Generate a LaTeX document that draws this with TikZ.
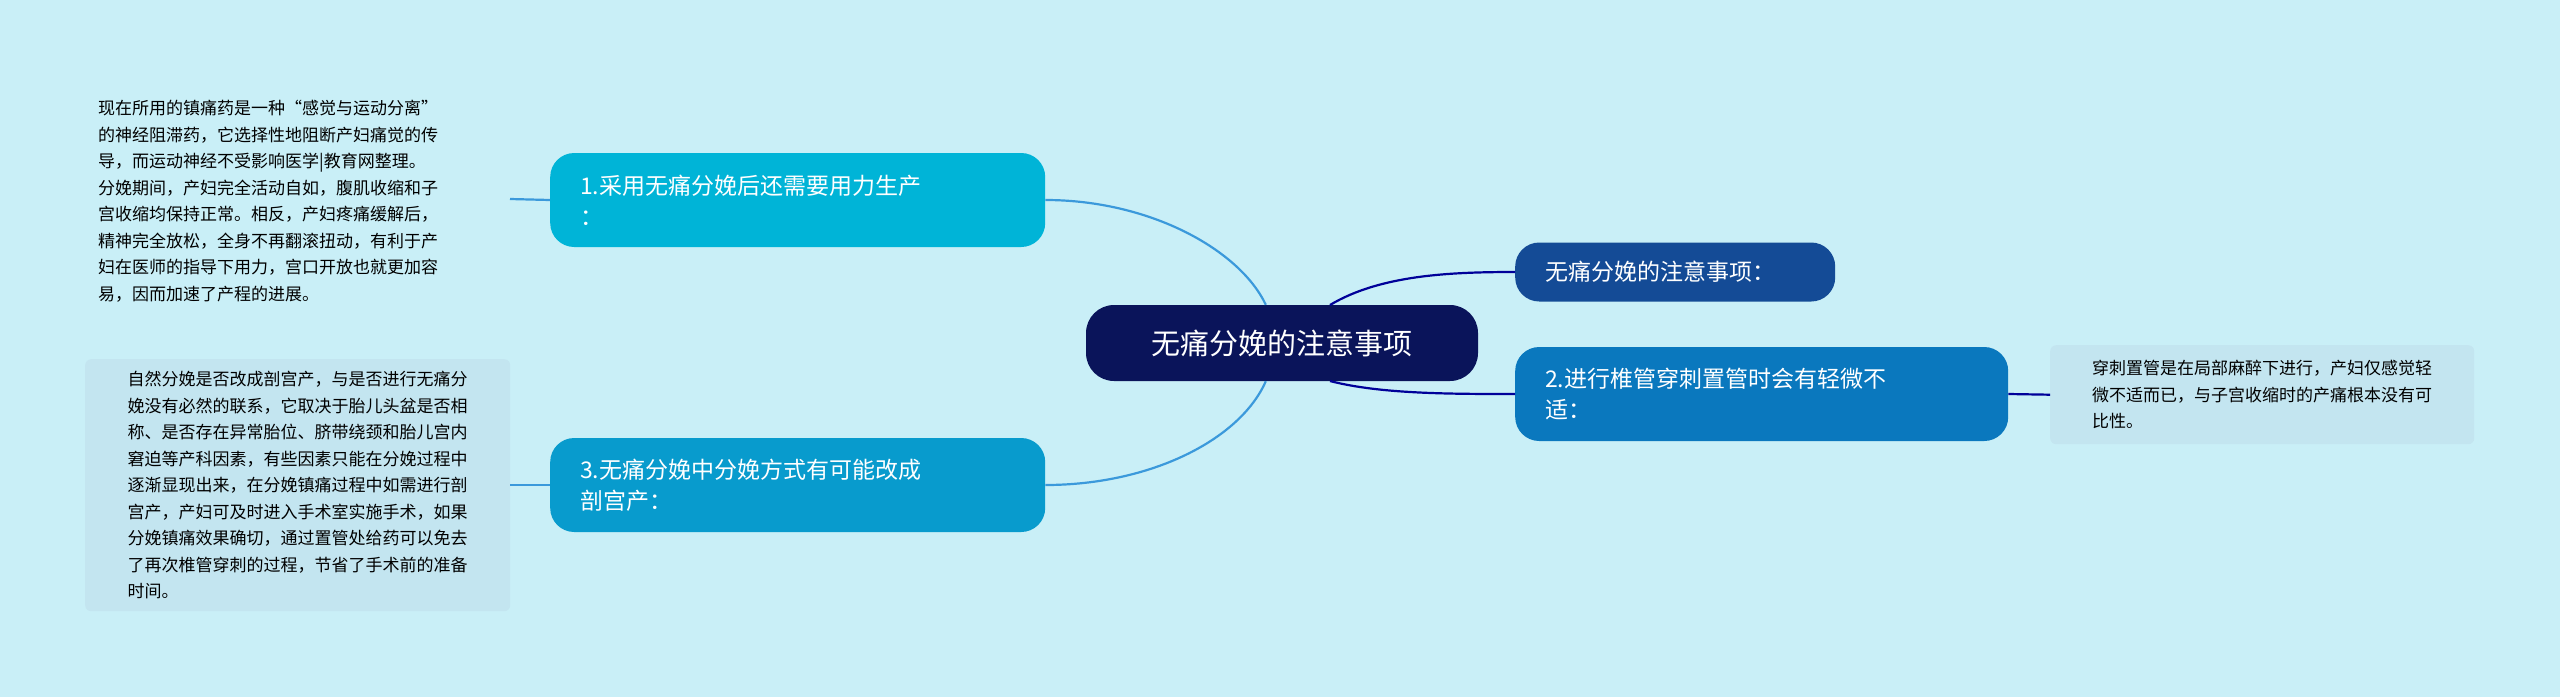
\documentclass[tikz,border=0pt]{standalone}
\usepackage{fontspec}
\setmainfont{Noto Sans CJK SC}
\begin{document}
\begin{tikzpicture}[x=1pt,y=-1pt,
  br/.style={rounded corners=24pt,minimum height=94pt,text=white,font=\fontsize{23}{31}\selectfont,align=left,inner xsep=30pt,anchor=west},
  leaf/.style={rounded corners=6pt,font=\fontsize{17}{26.5}\selectfont,align=left,anchor=north west,inner sep=8pt},
  lc/.style={draw=cyan!70!blue!80,line width=2.2pt},
  rc/.style={draw=blue!60!black,line width=2.2pt}]
\definecolor{bg}{HTML}{C9EFF7}
\definecolor{leafbg}{HTML}{C3E5F0}
\fill[bg] (0,0) rectangle (2560,697);
\useasboundingbox (0,0) rectangle (2560,697);
\node[fill={rgb,255:red,10;green,20;blue,90},rounded corners=28pt,minimum width=392pt,minimum height=76pt,text=white,font=\fontsize{29}{35}\selectfont] (root) at (1282,343) {无痛分娩的注意事项};
\node[br,fill={rgb,255:red,0;green,180;blue,215},minimum width=495pt,text width=435pt] (b1) at (550,200) {1.采用无痛分娩后还需要用力生产\\：};
\node[br,fill={rgb,255:red,8;green,155;blue,205},minimum width=495pt,text width=435pt] (b3) at (550,485) {3.无痛分娩中分娩方式有可能改成\\剖宫产：};
\node[br,fill={rgb,255:red,20;green,75;blue,150},minimum height=59pt,minimum width=317pt,text width=260pt,rounded corners=24pt] (r1) at (1515,272) {无痛分娩的注意事项：};
\node[br,fill={rgb,255:red,10;green,120;blue,190},minimum width=493pt,text width=433pt] (r2) at (1515,394) {2.进行椎管穿刺置管时会有轻微不\\适：};
\node[leaf] (l1) at (90,92) {现在所用的镇痛药是一种“感觉与运动分离”\\的神经阻滞药，它选择性地阻断产妇痛觉的传\\导，而运动神经不受影响医学|教育网整理。\\分娩期间，产妇完全活动自如，腹肌收缩和子\\宫收缩均保持正常。相反，产妇疼痛缓解后，\\精神完全放松，全身不再翻滚扭动，有利于产\\妇在医师的指导下用力，宫口开放也就更加容\\易，因而加速了产程的进展。};
\node[leaf,fill=leafbg,minimum width=425pt,minimum height=252pt] (l3) at (85,359) {自然分娩是否改成剖宫产，与是否进行无痛分\\娩没有必然的联系，它取决于胎儿头盆是否相\\称、是否存在异常胎位、脐带绕颈和胎儿宫内\\窘迫等产科因素，有些因素只能在分娩过程中\\逐渐显现出来，在分娩镇痛过程中如需进行剖\\宫产，产妇可及时进入手术室实施手术，如果\\分娩镇痛效果确切，通过置管处给药可以免去\\了再次椎管穿刺的过程，节省了手术前的准备\\时间。};
\node[leaf,fill=leafbg,minimum width=424pt,minimum height=99pt] (l2) at (2050,345) {穿刺置管是在局部麻醉下进行，产妇仅感觉轻\\微不适而已，与子宫收缩时的产痛根本没有可\\比性。};
\coordinate (e1) at (510,199);
\coordinate (e3) at (510,485);
\draw[lc] (root.north west) ++(180,0) .. controls (1240,250) and (1150,200) .. (b1.east);
\draw[lc] (root.south west) ++(180,0) .. controls (1240,440) and (1150,485) .. (b3.east);
\draw[rc] (1330,305) .. controls (1380,275) and (1450,272) .. (r1.west);
\draw[rc] (1330,381) .. controls (1380,394) and (1450,394) .. (r2.west);
\draw[lc] (b1.west) -- (e1);
\draw[lc] (b3.west) -- (e3);
\draw[rc] (r2.east) -- (l2.west);
\end{tikzpicture}
\end{document}
